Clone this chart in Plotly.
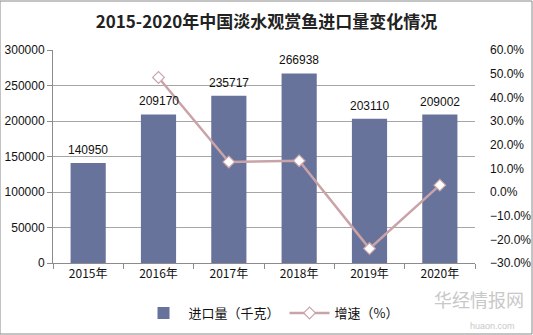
import plotly.graph_objects as go

years = ["2015年", "2016年", "2017年", "2018年", "2019年", "2020年"]
imports = [140950, 209170, 235717, 266938, 203110, 209002]
growth_years = ["2016年", "2017年", "2018年", "2019年", "2020年"]
growth = [0.484, 0.127, 0.132, -0.239, 0.029]

bar_color = "#68739B"
line_color = "#C9A3A8"
font_main = "Liberation Sans, Arial, Noto Sans CJK SC, sans-serif"

fig = go.Figure()
fig.add_trace(go.Bar(
    x=years, y=imports, name="进口量（千克）",
    marker=dict(color=bar_color, line=dict(width=0)),
))
fig.add_trace(go.Scatter(
    x=growth_years, y=growth, name="增速（%）", yaxis="y2",
    mode="lines+markers",
    line=dict(color=line_color, width=2.5),
    marker=dict(symbol="diamond", size=9, color="white",
                line=dict(color=line_color, width=1.2)),
))
for x, v in zip(years, imports):
    fig.add_annotation(x=x, y=v, text=str(v), showarrow=False, yanchor="bottom",
                       yshift=4, font=dict(size=12, color="#111111", family=font_main))

fig.update_layout(
    width=533, height=335,
    margin=dict(l=53, r=58, t=50, b=72, autoexpand=False),
    paper_bgcolor="white", plot_bgcolor="white",
    font=dict(family=font_main, size=12, color="#111111"),
    bargap=0.5,
    showlegend=True,
    legend=dict(orientation="h", x=108/533, y=22/335, xref="paper", yref="container",
                xanchor="left", yanchor="middle",
                font=dict(size=13, family="Noto Sans CJK SC, sans-serif"),
                itemwidth=40, tracegroupgap=0),
    title=dict(text="<b>2015-2020年中国淡水观赏鱼进口量变化情况</b>",
               x=0.5, xanchor="center", y=1 - 22/335, yanchor="middle",
               font=dict(size=17, family="Noto Sans CJK SC, serif", color="#222222")),
    xaxis=dict(type="category", showline=True, linecolor="#8c8c8c", linewidth=1,
               ticks="outside", tickson="boundaries", ticklen=5, tickcolor="#8c8c8c",
               showgrid=False, tickfont=dict(size=12, family="Noto Sans CJK SC, sans-serif")),
    yaxis=dict(range=[0, 300000], dtick=50000, tickformat="d",
               showgrid=True, gridcolor="#a6a6a6", gridwidth=1,
               showline=True, linecolor="#8c8c8c", linewidth=1,
               ticks="outside", ticklen=5, tickcolor="#8c8c8c", zeroline=False),
    yaxis2=dict(range=[-0.3, 0.6], dtick=0.1, tickformat=".1%",
                overlaying="y", side="right", showgrid=False, zeroline=False,
                showline=False, ticks="", ticklabelstandoff=14),
    shapes=[dict(type="rect", xref="paper", yref="paper", x0=-53/422, x1=1+57/422,
                 y0=-71/213, y1=1+49/213, line=dict(color="#888888", width=1))],
)
fig.add_annotation(text="华经情报网", xref="paper", yref="paper", x=1.12, y=-0.24,
                   showarrow=False, font=dict(size=18, color="#c8c8c8",
                   family="Noto Sans CJK SC, sans-serif"), xanchor="right")
fig.add_annotation(text="huaon.com", xref="paper", yref="paper", x=1.1, y=-0.33,
                   showarrow=False, font=dict(size=9, color="#c8c8c8"), xanchor="right")
fig.write_html("out.html")
